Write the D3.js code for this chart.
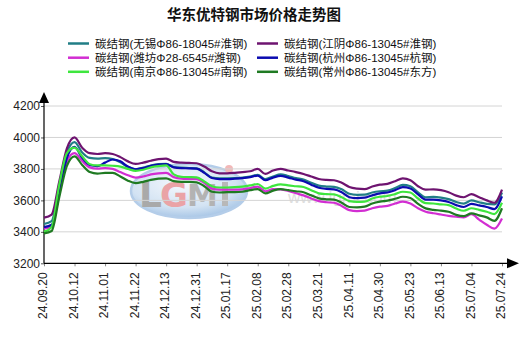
<!DOCTYPE html>
<html><head><meta charset="utf-8">
<script src="https://cdn.jsdelivr.net/npm/d3@7/dist/d3.min.js"></script>
<style>
html,body{margin:0;padding:0;background:#fff;}
svg{display:block;}
</style></head>
<body>
<svg id="chart" width="527" height="339"></svg>
<script>
const title = "华东优特钢市场价格走势图";
const tickLabels = ["24.09.20","24.10.12","24.11.01","24.11.22","24.12.13","24.12.31","25.01.17","25.02.08","25.02.28","25.03.21","25.04.11","25.04.30","25.05.23","25.06.13","25.07.04","25.07.24"];
const yTicks = [3200,3400,3600,3800,4000,4200];
const seriesNames = ["碳结钢(无锡Φ86-18045#淮钢)","碳结钢(江阴Φ86-13045#淮钢)","碳结钢(潍坊Φ28-6545#潍钢)","碳结钢(杭州Φ86-13045#杭钢)","碳结钢(南京Φ86-13045#南钢)","碳结钢(常州Φ86-13045#东方)"];
const seriesColors = ["#217e86","#6e1470","#d22ed2","#0b0bb0","#3ee63e","#1f7a22"];

// 61 samples, 4 per tick interval
const wuxi = [3450,3468,3690,3905,3970,3905,3870,3865,3868,3862,3842,3812,3798,3808,3822,3830,3832,3812,3808,3806,3804,3778,3745,3740,3740,3741,3745,3752,3762,3735,3752,3766,3755,3742,3732,3712,3694,3688,3686,3670,3642,3635,3636,3650,3658,3662,3678,3698,3690,3650,3620,3622,3618,3608,3590,3580,3600,3588,3578,3575,3650];
const jiangyin = [3490,3510,3720,3930,4000,3935,3900,3895,3900,3895,3875,3848,3832,3840,3852,3862,3866,3845,3840,3838,3836,3815,3785,3772,3772,3775,3780,3785,3800,3768,3790,3800,3790,3780,3768,3752,3736,3730,3728,3712,3685,3675,3672,3688,3700,3705,3722,3740,3728,3690,3668,3670,3665,3652,3630,3620,3640,3620,3600,3585,3668];
const weifang = [3420,3435,3660,3850,3900,3850,3810,3802,3805,3800,3780,3760,3745,3752,3765,3772,3775,3748,3738,3736,3735,3712,3675,3668,3668,3668,3670,3678,3688,3658,3672,3670,3660,3645,3632,3612,3595,3588,3585,3565,3538,3532,3535,3550,3560,3565,3580,3592,3580,3550,3528,3518,3510,3502,3496,3492,3512,3478,3445,3420,3485];
const hangzhou = [3430,3445,3640,3870,3940,3870,3825,3818,3840,3860,3848,3815,3798,3805,3820,3828,3830,3810,3805,3804,3802,3775,3742,3735,3735,3738,3742,3748,3758,3728,3745,3756,3745,3732,3722,3700,3680,3673,3670,3652,3620,3614,3617,3632,3645,3650,3665,3684,3676,3638,3605,3605,3600,3590,3570,3558,3578,3568,3558,3545,3625];
const nanjing = [3400,3430,3700,3900,3935,3880,3830,3822,3822,3820,3815,3800,3788,3795,3810,3818,3822,3765,3750,3748,3746,3720,3690,3682,3682,3684,3688,3695,3704,3675,3692,3702,3695,3690,3685,3665,3645,3640,3638,3620,3595,3590,3592,3612,3623,3628,3640,3655,3650,3612,3582,3580,3575,3570,3548,3534,3550,3540,3528,3513,3585];
const changzhou = [3390,3405,3620,3820,3880,3825,3780,3770,3775,3775,3752,3725,3710,3718,3730,3738,3740,3722,3718,3718,3715,3690,3655,3650,3652,3652,3655,3665,3672,3644,3662,3672,3665,3658,3652,3632,3613,3607,3605,3585,3558,3555,3560,3580,3592,3598,3610,3623,3615,3578,3549,3540,3535,3528,3508,3500,3517,3505,3492,3470,3550];
const seriesValues = [wuxi, jiangyin, weifang, hangzhou, nanjing, changzhou];

const svg = d3.select("#chart");
const FONT = "'Liberation Sans', Arial, 'Noto Sans CJK SC', sans-serif";
const pLeft = 44, pRight = 502, pTop = 106, pBottom = 263.3;
const nPts = wuxi.length;
const x = d3.scaleLinear().domain([0, nPts - 1]).range([pLeft, pRight]);
const y = d3.scaleLinear().domain([3200, 4200]).range([pBottom, pTop]);

// Title
svg.append("text").attr("x", 254).attr("y", 19.5).attr("text-anchor", "middle")
  .attr("font-family", "'Noto Sans CJK SC', sans-serif").attr("font-weight", "bold")
  .attr("font-size", 14.5).attr("fill", "#111").text(title);

// Legend
const legendPos = [[68,43.5],[257,43.5],[68,57.7],[257,57.7],[68,71.8],[257,71.8]];
seriesNames.forEach((nm, i) => {
  const [lx, ly] = legendPos[i];
  svg.append("line").attr("x1", lx).attr("x2", lx + 21).attr("y1", ly).attr("y2", ly)
    .attr("stroke", seriesColors[i]).attr("stroke-width", 2.5);
  svg.append("text").attr("x", lx + 27).attr("y", ly + 4.2)
    .attr("font-family", FONT).attr("font-size", 11.5).attr("fill", "#111").text(nm);
});

// Watermark
const defs = svg.append("defs");
const grad = defs.append("radialGradient").attr("id", "wmg").attr("cx", "45%").attr("cy", "35%").attr("r", "65%");
grad.append("stop").attr("offset", "0%").attr("stop-color", "#f6f9fd");
grad.append("stop").attr("offset", "70%").attr("stop-color", "#d3e3f3");
grad.append("stop").attr("offset", "100%").attr("stop-color", "#a8c6e6");
const wm = svg.append("g");
wm.append("ellipse").attr("cx", 189).attr("cy", 191).attr("rx", 58).attr("ry", 27)
  .attr("fill", "url(#wmg)").attr("stroke", "#b4cde9").attr("stroke-width", 2.5);
const wmFont = "'DejaVu Sans', sans-serif";
wm.append("text").attr("x", 139).attr("y", 207).attr("font-family", wmFont).attr("font-weight", "bold").attr("font-size", 36).attr("fill", "#a9a9a9").text("L");
wm.append("text").attr("x", 160).attr("y", 207).attr("font-family", wmFont).attr("font-weight", "bold").attr("font-size", 34).attr("fill", "#eaa3a6").text("G");
wm.append("text").attr("x", 187).attr("y", 206).attr("font-family", wmFont).attr("font-weight", "bold").attr("font-size", 31).attr("fill", "#b3b3b3").text("M");
wm.append("rect").attr("x", 222).attr("y", 182).attr("width", 6).attr("height", 24).attr("fill", "#b8b8b8");
wm.append("circle").attr("cx", 229).attr("cy", 169).attr("r", 4).attr("fill", "#f2b8b8");
svg.append("text").attr("x", 288).attr("y", 203).attr("font-family", FONT).attr("font-size", 17)
  .attr("fill", "#dedede").text("www.lgmi.com");

// Gridlines
svg.append("g").selectAll("line").data(yTicks.filter(v => v > 3200)).join("line")
  .attr("x1", pLeft).attr("x2", pRight).attr("y1", d => y(d)).attr("y2", d => y(d))
  .attr("stroke", "#d4d4d4").attr("stroke-width", 1);

// Y axis
const yAxis = svg.append("g").attr("transform", `translate(${pLeft},0)`)
  .call(d3.axisLeft(y).tickValues(yTicks).tickSize(3).tickPadding(1).tickFormat(d3.format("d")));
yAxis.select(".domain").remove();
yAxis.selectAll(".tick line").attr("stroke", "#555");
yAxis.selectAll("text").attr("font-family", FONT).attr("font-size", 12).attr("fill", "#222");
svg.append("line").attr("x1", pLeft).attr("x2", pLeft).attr("y1", pBottom).attr("y2", 100).attr("stroke", "#000").attr("stroke-width", 1.2);
svg.append("path").attr("d", `M${pLeft},92 L${pLeft-5},103 L${pLeft+5},103 Z`).attr("fill", "#000");

// X axis
const xTickIdx = tickLabels.map((_, i) => i * 4);
const xAxis = svg.append("g").attr("transform", `translate(0,${pBottom})`)
  .call(d3.axisBottom(x).tickValues(xTickIdx).tickSize(3).tickFormat((d, i) => tickLabels[i]));
xAxis.select(".domain").remove();
xAxis.selectAll(".tick line").attr("stroke", "#888");
xAxis.selectAll("text").attr("font-family", FONT).attr("font-size", 12).attr("fill", "#222")
  .attr("text-anchor", "end").attr("transform", "rotate(-90)").attr("x", -9).attr("y", -1.5).attr("dy", "0.35em");
svg.append("line").attr("x1", pLeft).attr("x2", 508).attr("y1", pBottom).attr("y2", pBottom).attr("stroke", "#000").attr("stroke-width", 1.2);
svg.append("path").attr("d", `M519,${pBottom} L507,${pBottom-5} L507,${pBottom+5} Z`).attr("fill", "#000");

// Lines
const line = d3.line().x((d, i) => x(i)).y(d => y(d)).curve(d3.curveMonotoneX);
seriesValues.forEach((vals, k) => {
  svg.append("path").datum(vals).attr("d", line).attr("fill", "none")
    .attr("stroke", seriesColors[k]).attr("stroke-width", 2.2).attr("stroke-linejoin", "round");
});
</script>
</body></html>
